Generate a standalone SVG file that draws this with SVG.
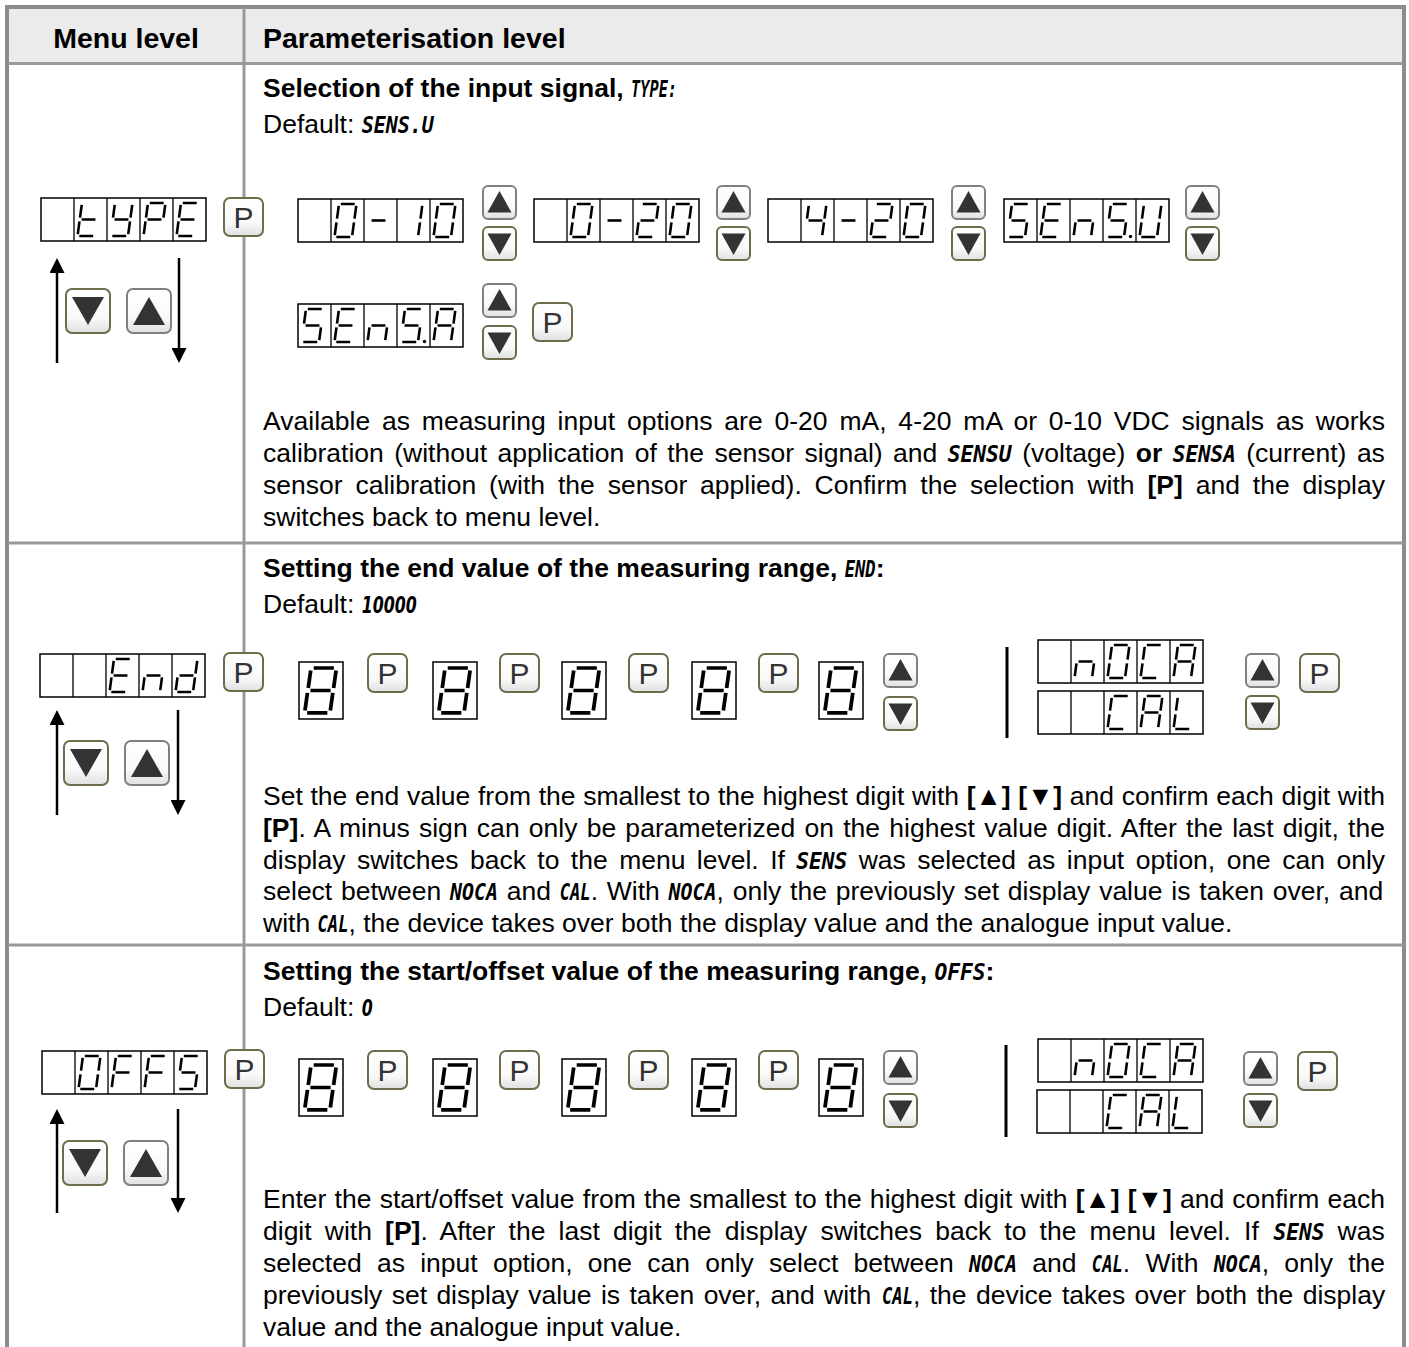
<svg xmlns="http://www.w3.org/2000/svg" width="1409" height="1347" viewBox="0 0 1409 1347">
<style>
.t{font-family:"Liberation Sans",Arial,sans-serif;font-size:26.5px;fill:#000}
.b{font-weight:bold}
.h{font-family:"Liberation Sans",Arial,sans-serif;font-size:28.5px;font-weight:bold;fill:#000}
.lcd{font-family:"DejaVu Sans Mono","Liberation Mono",monospace;font-weight:bold;font-style:italic;font-size:23px;fill:#000}
.num{font-family:"DejaVu Sans",sans-serif;font-weight:bold;font-style:italic;font-size:23px;fill:#000}
.seg{fill:none;stroke:#000;stroke-width:2.6}
.box{fill:#fff;stroke:#000;stroke-width:1.5}
.dv{stroke:#000;stroke-width:1.3;fill:none}
.bu{fill:url(#bg);stroke:#808080;stroke-width:2}
.bo{fill:url(#bg);stroke:#6e6c4c;stroke-width:2}
.tri{fill:#333}
.pt{font-family:"Liberation Sans",Arial,sans-serif;font-size:30px;fill:#333;text-anchor:middle}
.grid{stroke:#999;stroke-width:3;fill:none}
.arr{stroke:#000;stroke-width:2.5;fill:none;marker-end:url(#ah)}
.bar{stroke:#000;stroke-width:3}
</style>
<defs>
<linearGradient id="bg" x1="0" y1="0" x2="0" y2="1"><stop offset="0" stop-color="#ffffff"/><stop offset="0.65" stop-color="#f9f9f9"/><stop offset="1" stop-color="#e0e0e0"/></linearGradient>
<marker id="ah" viewBox="0 0 15 15" refX="3" refY="7.5" markerWidth="15" markerHeight="15" markerUnits="userSpaceOnUse" orient="auto"><path d="M0 0L15 7.5L0 15Z" fill="#000"/></marker>
<g id="d5"><rect class="box" x="0" y="0" width="165" height="43"/><path class="dv" d="M33 0V43M66 0V43M99 0V43M132 0V43"/></g>
<rect id="d8" class="box" x="0" y="0" width="44" height="57"/>
<path id="g0" class="seg" d="M9.8 5H23.7M25.23 6.8L23.52 19.7M22.98 23.3L21.27 36.2M5.3 38H19.2M5.48 23.3L3.77 36.2M7.73 6.8L6.02 19.7"/>
<path id="g1" class="seg" d="M25.23 6.8L23.52 19.7M22.98 23.3L21.27 36.2"/>
<path id="g2" class="seg" d="M9.8 5H23.7M25.23 6.8L23.52 19.7M7.55 21.5H21.45M5.48 23.3L3.77 36.2M5.3 38H19.2"/>
<path id="g4" class="seg" d="M7.73 6.8L6.02 19.7M7.55 21.5H21.45M25.23 6.8L23.52 19.7M22.98 23.3L21.27 36.2"/>
<path id="g5" class="seg" d="M9.8 5H23.7M7.73 6.8L6.02 19.7M7.55 21.5H21.45M22.98 23.3L21.27 36.2M5.3 38H19.2"/>
<path id="g8" class="seg" d="M9.8 5H23.7M25.23 6.8L23.52 19.7M22.98 23.3L21.27 36.2M5.3 38H19.2M5.48 23.3L3.77 36.2M7.73 6.8L6.02 19.7M7.55 21.5H21.45"/>
<path id="gA" class="seg" d="M9.8 5H23.7M25.23 6.8L23.52 19.7M22.98 23.3L21.27 36.2M5.48 23.3L3.77 36.2M7.73 6.8L6.02 19.7M7.55 21.5H21.45"/>
<path id="gC" class="seg" d="M9.8 5H23.7M5.3 38H19.2M5.48 23.3L3.77 36.2M7.73 6.8L6.02 19.7"/>
<path id="gE" class="seg" d="M9.8 5H23.7M5.3 38H19.2M5.48 23.3L3.77 36.2M7.73 6.8L6.02 19.7M7.55 21.5H21.45"/>
<path id="gF" class="seg" d="M9.8 5H23.7M5.48 23.3L3.77 36.2M7.73 6.8L6.02 19.7M7.55 21.5H21.45"/>
<path id="gL" class="seg" d="M5.3 38H19.2M5.48 23.3L3.77 36.2M7.73 6.8L6.02 19.7"/>
<path id="gP" class="seg" d="M9.8 5H23.7M25.23 6.8L23.52 19.7M5.48 23.3L3.77 36.2M7.73 6.8L6.02 19.7M7.55 21.5H21.45"/>
<path id="gU" class="seg" d="M25.23 6.8L23.52 19.7M22.98 23.3L21.27 36.2M5.3 38H19.2M5.48 23.3L3.77 36.2M7.73 6.8L6.02 19.7"/>
<path id="gY" class="seg" d="M25.23 6.8L23.52 19.7M22.98 23.3L21.27 36.2M5.3 38H19.2M7.73 6.8L6.02 19.7M7.55 21.5H21.45"/>
<path id="gd" class="seg" d="M25.23 6.8L23.52 19.7M22.98 23.3L21.27 36.2M5.3 38H19.2M5.48 23.3L3.77 36.2M7.55 21.5H21.45"/>
<path id="gn" class="seg" d="M22.98 23.3L21.27 36.2M5.48 23.3L3.77 36.2M7.55 21.5H21.45"/>
<path id="gt" class="seg" d="M5.3 38H19.2M5.48 23.3L3.77 36.2M7.73 6.8L6.02 19.7M7.55 21.5H21.45"/>
<path id="gm" class="seg" d="M7.55 21.5H21.45"/>
<circle id="gdp" cx="27.5" cy="37.5" r="1.7" fill="#000"/>
<g id="bUpS"><rect class="bu" x="1" y="1" width="33" height="33" rx="5"/><path class="tri" d="M17.5 6L29.5 27.5H5.5Z"/></g>
<g id="bDnS"><rect class="bo" x="1" y="1" width="33" height="33" rx="5"/><path class="tri" d="M5.5 7.5H29.5L17.5 29Z"/></g>
<g id="bUpL"><rect class="bu" x="1" y="1" width="44" height="44" rx="6"/><path class="tri" d="M23 9L39 37H7Z"/></g>
<g id="bDnL"><rect class="bo" x="1" y="1" width="44" height="44" rx="6"/><path class="tri" d="M7 9H39L23 37Z"/></g>
<g id="bP"><rect class="bo" x="1" y="1" width="39" height="38" rx="6"/><text class="pt" x="20.5" y="31">P</text></g>
</defs>

<g id="table">
<rect x="8" y="8" width="1395" height="55" fill="#ebebeb"/>
<rect x="7" y="7" width="1397" height="1400" fill="none" stroke="#8c8c8c" stroke-width="4"/>
<path class="grid" d="M8 63.5H1403M8 543H1403M8 945H1403"/>
<path class="grid" d="M244 8V1347" stroke-width="2.5"/>
<text class="h" x="126" y="48" text-anchor="middle">Menu level</text>
<text class="h" x="263" y="48">Parameterisation level</text>
</g>

<g id="texts-row1">
<text class="t b" x="263" y="97">Selection of the input signal,</text>
<text class="lcd" transform="translate(631.1 97) scale(0.664 1)">TYPE:</text>
<text class="t" x="263" y="133">Default:</text>
<text class="lcd" transform="translate(361.7 133) scale(0.867 1)">SENS.U</text>
<text class="t" x="263" y="430" textLength="1122" lengthAdjust="spacing" word-spacing="4.4">Available as measuring input options are 0-20 mA, 4-20 mA or 0-10 VDC signals as works</text>
<text class="t" x="263" y="462" word-spacing="3.1">calibration (without application of the sensor signal) and</text>
<text class="lcd" transform="translate(947.7 462) scale(0.924 1)">SENSU</text>
<text class="t" x="1022.2" y="462" word-spacing="3.1">(voltage) <tspan class="b">or</tspan></text>
<text class="lcd" transform="translate(1172.8 462) scale(0.91 1)">SENSA</text>
<text class="t" x="1246.3" y="462" word-spacing="3.1">(current) as</text>
<text class="t" x="263" y="494" textLength="1122" lengthAdjust="spacing" word-spacing="5.5">sensor calibration (with the sensor applied). Confirm the selection with <tspan class="b">[P]</tspan> and the display</text>
<text class="t" x="263" y="526">switches back to menu level.</text>
</g>

<g id="texts-row2">
<text class="t b" x="263" y="577">Setting the end value of the measuring range,</text>
<text class="lcd" transform="translate(844.7 577) scale(0.746 1)">END</text>
<text class="t b" x="875.7" y="577">:</text>
<text class="t" x="263" y="613">Default:</text>
<text class="num" transform="translate(361.7 613) scale(0.687 1)">10000</text>
<text class="t" x="263" y="805" textLength="1122" lengthAdjust="spacing" word-spacing="0.3">Set the end value from the smallest to the highest digit with <tspan class="b">[▲] [▼]</tspan> and confirm each digit with</text>
<text class="t" x="263" y="837" textLength="1122" lengthAdjust="spacing" word-spacing="1.7"><tspan class="b">[P]</tspan>. A minus sign can only be parameterized on the highest value digit. After the last digit, the</text>
<text class="t" x="263" y="869" word-spacing="4.06">display switches back to the menu level. If</text>
<text class="lcd" transform="translate(796.2 869) scale(0.921 1)">SENS</text>
<text class="t" x="858.7" y="869" word-spacing="4.06">was selected as input option, one can only</text>
<text class="t" x="263" y="900" word-spacing="1.4">select between</text>
<text class="lcd" transform="translate(450 900) scale(0.867 1)">NOCA</text>
<text class="t" x="506.8" y="900">and</text>
<text class="lcd" transform="translate(559.7 900) scale(0.746 1)">CAL</text>
<text class="t" x="590.7" y="900" word-spacing="1.4">. With</text>
<text class="lcd" transform="translate(668.6 900) scale(0.867 1)">NOCA</text>
<text class="t" x="716.6" y="900" word-spacing="1.4">, only the previously set display value is taken over, and</text>
<text class="t" x="263" y="932">with</text>
<text class="lcd" transform="translate(317.5 932) scale(0.746 1)">CAL</text>
<text class="t" x="348.5" y="932">, the device takes over both the display value and the analogue input value.</text>
</g>

<g id="texts-row3">
<text class="t b" x="263" y="980">Setting the start/offset value of the measuring range,</text>
<text class="lcd" transform="translate(934.5 980) scale(0.921 1)">OFFS</text>
<text class="t b" x="985.5" y="980">:</text>
<text class="t" x="263" y="1016">Default:</text>
<text class="num" transform="translate(361.7 1016) scale(0.687 1)">0</text>
<text class="t" x="263" y="1208" textLength="1122" lengthAdjust="spacing" word-spacing="0.8">Enter the start/offset value from the smallest to the highest digit with <tspan class="b">[▲] [▼]</tspan> and confirm each</text>
<text class="t" x="263" y="1240" word-spacing="5.8">digit with <tspan class="b">[P]</tspan>. After the last digit the display switches back to the menu level. If</text>
<text class="lcd" transform="translate(1273.5 1240) scale(0.921 1)">SENS</text>
<text class="t" x="1337.6" y="1240">was</text>
<text class="t" x="263" y="1272" word-spacing="7.9">selected as input option, one can only select between</text>
<text class="lcd" transform="translate(969 1272) scale(0.867 1)">NOCA</text>
<text class="t" x="1032.3" y="1272">and</text>
<text class="lcd" transform="translate(1091.8 1272) scale(0.746 1)">CAL</text>
<text class="t" x="1122.8" y="1272" word-spacing="7.9">. With</text>
<text class="lcd" transform="translate(1213.7 1272) scale(0.867 1)">NOCA</text>
<text class="t" x="1261.7" y="1272" word-spacing="7.9">, only the</text>
<text class="t" x="263" y="1304" word-spacing="2">previously set display value is taken over, and with</text>
<text class="lcd" transform="translate(882 1304) scale(0.746 1)">CAL</text>
<text class="t" x="913" y="1304" word-spacing="2">, the device takes over both the display</text>
<text class="t" x="263" y="1336">value and the analogue input value.</text>
</g>

<g id="connectors">
<path class="arr" d="M57 363V270"/>
<path class="arr" d="M179 258V351"/>
<path class="arr" d="M57 815V722"/>
<path class="arr" d="M178 710V803"/>
<path class="arr" d="M57 1213V1121"/>
<path class="arr" d="M178 1109V1201"/>
<path class="bar" d="M1007 647V738M1006 1045V1137"/>
</g>

<g id="menu-type"><use href="#d5" x="41" y="198"/><use href="#gt" x="74" y="198"/><use href="#gY" x="107" y="198"/><use href="#gP" x="140" y="198"/><use href="#gE" x="173" y="198"/></g>
<g id="btn-p-type"><use href="#bP" x="223" y="197"/></g>
<g id="btn-dn-type"><use href="#bDnL" x="65" y="288"/></g>
<g id="btn-up-type"><use href="#bUpL" x="126" y="288"/></g>
<g id="disp-0-10"><use href="#d5" x="298" y="199"/><use href="#g0" x="331" y="199"/><use href="#gm" x="364" y="199"/><use href="#g1" x="397" y="199"/><use href="#g0" x="430" y="199"/></g>
<g id="btn-0-10"><use href="#bUpS" x="482" y="185"/><use href="#bDnS" x="482" y="226"/></g>
<g id="disp-0-20"><use href="#d5" x="534" y="199"/><use href="#g0" x="567" y="199"/><use href="#gm" x="600" y="199"/><use href="#g2" x="633" y="199"/><use href="#g0" x="666" y="199"/></g>
<g id="btn-0-20"><use href="#bUpS" x="716" y="185"/><use href="#bDnS" x="716" y="226"/></g>
<g id="disp-4-20"><use href="#d5" x="768" y="199"/><use href="#g4" x="801" y="199"/><use href="#gm" x="834" y="199"/><use href="#g2" x="867" y="199"/><use href="#g0" x="900" y="199"/></g>
<g id="btn-4-20"><use href="#bUpS" x="951" y="185"/><use href="#bDnS" x="951" y="226"/></g>
<g id="disp-sensu"><use href="#d5" x="1004" y="199"/><use href="#g5" x="1004" y="199"/><use href="#gE" x="1037" y="199"/><use href="#gn" x="1070" y="199"/><use href="#g5" x="1103" y="199"/><use href="#gdp" x="1103" y="199"/><use href="#gU" x="1136" y="199"/></g>
<g id="btn-sensu"><use href="#bUpS" x="1185" y="185"/><use href="#bDnS" x="1185" y="226"/></g>
<g id="disp-sensa"><use href="#d5" x="298" y="304"/><use href="#g5" x="298" y="304"/><use href="#gE" x="331" y="304"/><use href="#gn" x="364" y="304"/><use href="#g5" x="397" y="304"/><use href="#gdp" x="397" y="304"/><use href="#gA" x="430" y="304"/></g>
<g id="btn-sensa"><use href="#bUpS" x="482" y="283"/><use href="#bDnS" x="482" y="325"/></g>
<g id="btn-p-sensa"><use href="#bP" x="532" y="302"/></g>

<g id="menu-end"><use href="#d5" x="40" y="654"/><use href="#gE" x="106" y="654"/><use href="#gn" x="139" y="654"/><use href="#gd" x="172" y="654"/></g>
<g id="btn-p-end"><use href="#bP" x="223" y="652"/></g>
<g id="btn-dn-end"><use href="#bDnL" x="63" y="740"/></g>
<g id="btn-up-end"><use href="#bUpL" x="124" y="740"/></g>
<g id="end-digits">
<use href="#d8" x="299" y="662"/><use href="#g8" transform="translate(299.5 661.2) scale(1.45 1.36)"/>
<use href="#bP" x="367" y="653"/>
<use href="#d8" x="433" y="662"/><use href="#g8" transform="translate(433.5 661.2) scale(1.45 1.36)"/>
<use href="#bP" x="499" y="653"/>
<use href="#d8" x="562" y="662"/><use href="#g8" transform="translate(562.5 661.2) scale(1.45 1.36)"/>
<use href="#bP" x="628" y="653"/>
<use href="#d8" x="692" y="662"/><use href="#g8" transform="translate(692.5 661.2) scale(1.45 1.36)"/>
<use href="#bP" x="758" y="653"/>
<use href="#d8" x="819" y="662"/><use href="#g8" transform="translate(819.5 661.2) scale(1.45 1.36)"/>
<use href="#bUpS" x="883" y="653"/><use href="#bDnS" x="883" y="696"/>
</g>
<g id="end-noca"><use href="#d5" x="1038" y="640"/><use href="#gn" x="1071" y="640"/><use href="#g0" x="1104" y="640"/><use href="#gC" x="1137" y="640"/><use href="#gA" x="1170" y="640"/></g>
<g id="end-cal"><use href="#d5" x="1038" y="691"/><use href="#gC" x="1104" y="691"/><use href="#gA" x="1137" y="691"/><use href="#gL" x="1170" y="691"/></g>
<g id="end-btns"><use href="#bUpS" x="1245" y="653"/><use href="#bDnS" x="1245" y="695"/><use href="#bP" x="1299" y="653"/></g>

<g id="menu-offs"><use href="#d5" x="42" y="1051"/><use href="#g0" x="75" y="1051"/><use href="#gF" x="108" y="1051"/><use href="#gF" x="141" y="1051"/><use href="#g5" x="174" y="1051"/></g>
<g id="btn-p-offs"><use href="#bP" x="224" y="1049"/></g>
<g id="btn-dn-offs"><use href="#bDnL" x="62" y="1140"/></g>
<g id="btn-up-offs"><use href="#bUpL" x="123" y="1140"/></g>
<g id="offs-digits">
<use href="#d8" x="299" y="1059"/><use href="#g8" transform="translate(299.5 1058.2) scale(1.45 1.36)"/>
<use href="#bP" x="367" y="1050"/>
<use href="#d8" x="433" y="1059"/><use href="#g8" transform="translate(433.5 1058.2) scale(1.45 1.36)"/>
<use href="#bP" x="499" y="1050"/>
<use href="#d8" x="562" y="1059"/><use href="#g8" transform="translate(562.5 1058.2) scale(1.45 1.36)"/>
<use href="#bP" x="628" y="1050"/>
<use href="#d8" x="692" y="1059"/><use href="#g8" transform="translate(692.5 1058.2) scale(1.45 1.36)"/>
<use href="#bP" x="758" y="1050"/>
<use href="#d8" x="819" y="1059"/><use href="#g8" transform="translate(819.5 1058.2) scale(1.45 1.36)"/>
<use href="#bUpS" x="883" y="1050"/><use href="#bDnS" x="883" y="1093"/>
</g>
<g id="offs-noca"><use href="#d5" x="1038" y="1039"/><use href="#gn" x="1071" y="1039"/><use href="#g0" x="1104" y="1039"/><use href="#gC" x="1137" y="1039"/><use href="#gA" x="1170" y="1039"/></g>
<g id="offs-cal"><use href="#d5" x="1037" y="1090"/><use href="#gC" x="1103" y="1090"/><use href="#gA" x="1136" y="1090"/><use href="#gL" x="1169" y="1090"/></g>
<g id="offs-btns"><use href="#bUpS" x="1243" y="1051"/><use href="#bDnS" x="1243" y="1093"/><use href="#bP" x="1297" y="1051"/></g>
</svg>
